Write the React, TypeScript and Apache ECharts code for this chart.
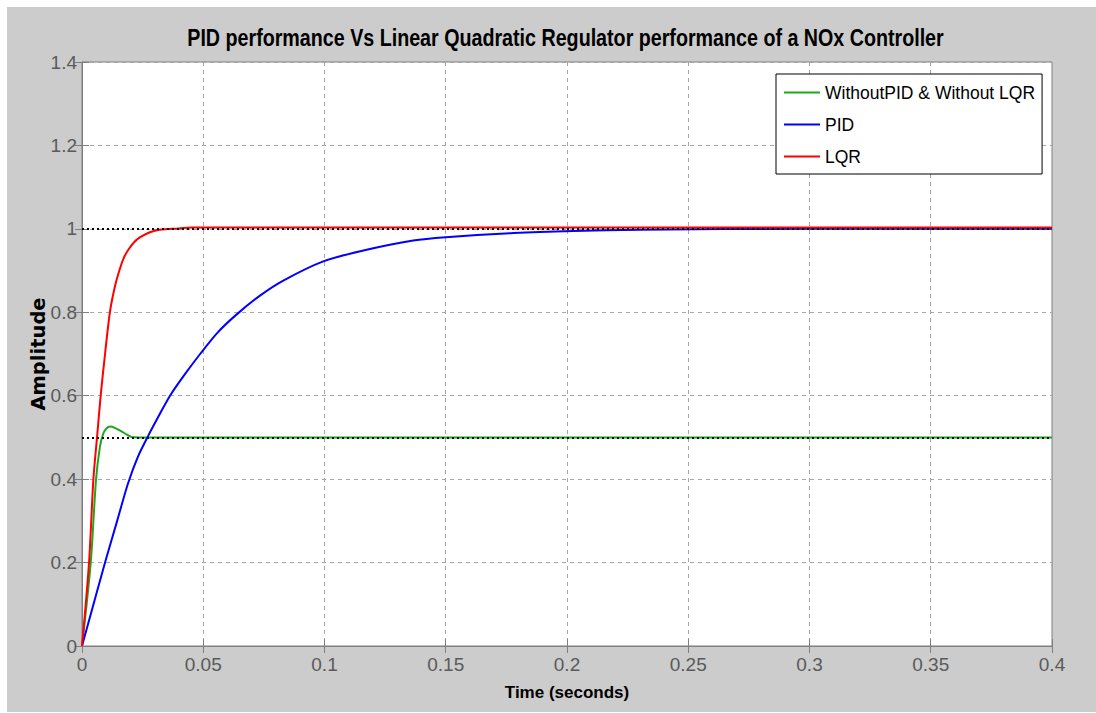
import React, { useEffect, useRef } from "react";
import * as echarts from "echarts";

const titleText = "PID performance Vs Linear Quadratic Regulator performance of a NOx Controller";
const seriesNames = ["WithoutPID & Without LQR", "PID", "LQR"];
const seriesColors = ["#19a919", "#0000ff", "#ff0000"];
const referenceLevels = [1, 0.5];

const noControl: [number, number][] = [
  [0, 0], [0.0036, 0.2], [0.0058, 0.4], [0.0074, 0.478], [0.0088, 0.51], [0.01, 0.521],
  [0.0116, 0.526], [0.0135, 0.523], [0.0164, 0.514], [0.0185, 0.507], [0.0205, 0.501],
  [0.025, 0.5], [0.4, 0.5],
];
const pid: [number, number][] = [
  [0, 0], [0.0095, 0.2], [0.0145, 0.3], [0.019, 0.39], [0.023, 0.453], [0.0274, 0.505],
  [0.0318, 0.553], [0.0363, 0.6], [0.042, 0.648], [0.0487, 0.7], [0.056, 0.752],
  [0.0638, 0.795], [0.0734, 0.84], [0.083, 0.876], [0.0995, 0.922], [0.116, 0.948],
  [0.1366, 0.972], [0.15, 0.98], [0.178, 0.99], [0.2026, 0.995], [0.23, 0.998],
  [0.3, 1.0], [0.4, 1.0],
];
const lqr: [number, number][] = [
  [0, 0], [0.0029, 0.2], [0.0047, 0.4], [0.0062, 0.5], [0.0077, 0.6], [0.0095, 0.7],
  [0.0115, 0.8], [0.0135, 0.86], [0.0154, 0.9], [0.0172, 0.93], [0.0191, 0.95],
  [0.0215, 0.968], [0.024, 0.98], [0.028, 0.992], [0.032, 0.998], [0.04, 1.001],
  [0.045, 1.003], [0.4, 1.003],
];

const X_MIN = 0, X_MAX = 0.4, X_STEP = 0.05;
const Y_MIN = 0, Y_MAX = 1.4, Y_STEP = 0.2;

const SANS = "'Liberation Sans', Arial, sans-serif";
const AXIS_GRAY = "#7f7f7f";
const LABEL_GRAY = "#5a5a5a";
const GRID_GRAY = "#a6a6a6";

const fmt = (v: number) => String(parseFloat(v.toFixed(3)));

export default function App() {
  const ref = useRef<HTMLDivElement>(null);
  useEffect(() => {
    if (!ref.current) return;
    const chart = echarts.init(ref.current, null, { renderer: "svg" });
    const datas = [noControl, pid, lqr];
    const baseX = { type: "value" as const, min: X_MIN, max: X_MAX, interval: X_STEP };
    const baseY = { type: "value" as const, min: Y_MIN, max: Y_MAX, interval: Y_STEP };
    chart.setOption({
      animation: false,
      backgroundColor: "#cccccc",
      graphic: [
        {
          type: "text",
          x: 558.5,
          y: 31,
          scaleX: 0.856,
          style: {
            text: titleText,
            font: `bold 23px ${SANS}`,
            fill: "#000",
            textAlign: "center",
            textVerticalAlign: "middle",
          },
        },
      ],
      legend: {
        data: seriesNames,
        orient: "vertical",
        left: 769,
        top: 67,
        padding: [7, 7, 6, 8],
        itemGap: 9,
        itemWidth: 36,
        itemHeight: 2,
        icon: "rect",
        backgroundColor: "#ffffff",
        borderColor: "#000000",
        borderWidth: 1,
        borderRadius: 0,
        textStyle: { fontFamily: SANS, fontSize: 17.5, color: "#000", lineHeight: 23 },
      },
      grid: {
        left: 75,
        top: 55,
        right: 44,
        bottom: 66,
        show: true,
        backgroundColor: "#ffffff",
        borderColor: AXIS_GRAY,
        borderWidth: 1,
      },
      xAxis: [
        {
          ...baseX,
          position: "bottom",
          name: "Time (seconds)",
          nameLocation: "middle",
          nameGap: 38,
          nameMoveOverlap: false,
          nameTextStyle: { fontFamily: SANS, fontWeight: "bold", fontSize: 17, color: "#000" },
          axisLine: { show: true, lineStyle: { color: AXIS_GRAY, width: 1 } },
          axisTick: { show: true, inside: true, length: 7, lineStyle: { color: AXIS_GRAY } },
          axisLabel: { fontFamily: SANS, fontSize: 19, color: LABEL_GRAY, margin: 9, formatter: fmt },
          splitLine: { show: true, lineStyle: { color: GRID_GRAY, type: [4, 4], width: 1 } },
        },
        {
          ...baseX,
          position: "top",
          axisLine: { show: true, lineStyle: { color: AXIS_GRAY, width: 1 } },
          axisTick: { show: true, inside: true, length: 7, lineStyle: { color: AXIS_GRAY } },
          axisLabel: { show: false },
          splitLine: { show: false },
        },
      ],
      yAxis: [
        {
          ...baseY,
          position: "left",
          name: "Amplitude",
          nameLocation: "middle",
          nameRotate: 90,
          nameGap: 34,
          nameMoveOverlap: false,
          nameTextStyle: { fontFamily: "'DejaVu Sans', sans-serif", fontWeight: "bold", fontSize: 19.5, color: "#000" },
          axisLine: { show: true, lineStyle: { color: AXIS_GRAY, width: 1 } },
          axisTick: { show: true, inside: true, length: 7, lineStyle: { color: AXIS_GRAY } },
          axisLabel: { fontFamily: SANS, fontSize: 19, color: LABEL_GRAY, margin: 5, formatter: fmt },
          splitLine: { show: true, lineStyle: { color: GRID_GRAY, type: [4, 4], width: 1 } },
        },
        {
          ...baseY,
          position: "right",
          axisLine: { show: true, lineStyle: { color: AXIS_GRAY, width: 1 } },
          axisTick: { show: true, inside: true, length: 7, lineStyle: { color: AXIS_GRAY } },
          axisLabel: { show: false },
          splitLine: { show: false },
        },
      ],
      series: seriesNames.map((name, i) => ({
        name,
        type: "line",
        data: datas[i],
        xAxisIndex: 0,
        yAxisIndex: 0,
        showSymbol: false,
        symbol: "none",
        smooth: 0.3,
        color: seriesColors[i],
        lineStyle: { color: seriesColors[i], width: 2 },
        markLine:
          i === 0
            ? {
                silent: true,
                symbol: "none",
                label: { show: false },
                lineStyle: { color: "#000", type: [2, 3], width: 2 },
                data: referenceLevels.map((v) => ({ yAxis: v })),
                z: 10,
              }
            : undefined,
      })),
    });
    return () => chart.dispose();
  }, []);
  return (
    <div
      ref={ref}
      style={{ position: "absolute", left: 7, top: 7, width: 1089, height: 705, background: "#cccccc" }}
    />
  );
}
